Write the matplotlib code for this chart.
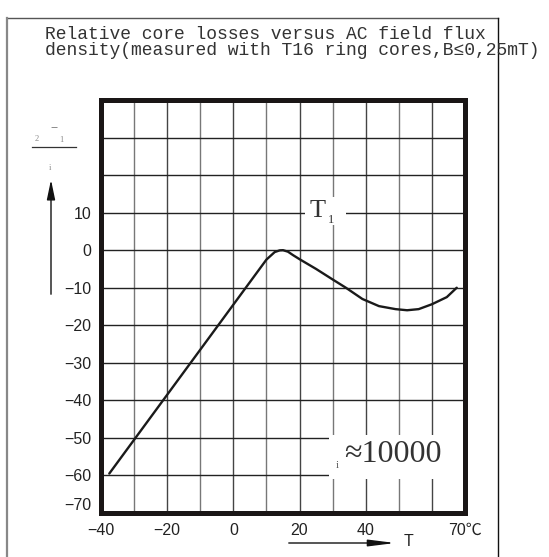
import matplotlib.pyplot as plt
from matplotlib.lines import Line2D
from matplotlib.patches import Rectangle
from matplotlib.transforms import ScaledTranslation

# curve (temperature in degC, relative change)
temp = [-37.5, -30, -20, -10, 0, 10, 12.5, 14, 15, 16.5, 18, 20, 25, 30, 34, 39, 44, 49, 52.5, 56, 60, 64.5, 67.5]
rel = [-59.5, -50.5, -38.5, -26.5, -14.5, -2.5, -0.5, -0.05, 0.0, -0.4, -1.3, -2.4, -5.0, -7.8, -10.0, -13.0, -14.9, -15.7, -16.0, -15.7, -14.4, -12.5, -10.0]

xticks = [-40, -30, -20, -10, 0, 10, 20, 30, 40, 50, 60, 70]
xlabels = ['−40', '', '−20', '', '0', '', '20', '', '40', '', '', '70℃']
yticks = [40, 30, 20, 10, 0, -10, -20, -30, -40, -50, -60, -70]
ylabels = ['', '', '', '10', '0', '−10', '−20', '−30', '−40', '−50', '−60', '−70']

W, H = 549, 557
fig = plt.figure(figsize=(W / 100, H / 100), dpi=100)


def fx(px):
    return px / W


def fy(py):
    return 1 - py / H


ax = fig.add_axes([fx(101), fy(513), fx(465) - fx(101), fy(100) - fy(513)])
ax.set_xlim(-40, 70)
ax.set_ylim(-70, 40)

for i, x in enumerate(xticks[1:-1]):
    ax.axvline(x, color='#444444' if i % 2 else '#777777', lw=1.0, zorder=1)
for y in yticks[1:-1]:
    ax.axhline(y, color='#222222', lw=1.0, zorder=1)

ax.plot(temp, rel, color='#1a1a1a', lw=1.7, solid_capstyle='round', zorder=3)

ax.set_xticks(xticks)
ax.set_xticklabels(xlabels)
ax.set_yticks(yticks)
ax.set_yticklabels(ylabels)
ax.tick_params(length=0, labelsize=11.5, pad=7, colors='#222222')
for lbl in ax.get_xticklabels() + ax.get_yticklabels():
    lbl.set_fontfamily(['Liberation Sans', 'Noto Sans CJK SC'])
# bottom y label sits above the frame
last = ax.get_yticklabels()[-1]
last.set_transform(last.get_transform() + ScaledTranslation(0, 0.09, fig.dpi_scale_trans))

for s in ax.spines.values():
    s.set_linewidth(3.6)
    s.set_color('#1a1616')
    s.set_zorder(5)

# white patches that break the grid behind the labels
ax.add_patch(Rectangle((21.6, 6.7), 12.4, 7.5, fc='white', ec='none', zorder=2))
ax.add_patch(Rectangle((28.9, -61.0), 41.1, 11.8, fc='white', ec='none', zorder=2))

ax.text(25.6, 10.5, 'T', fontsize=19, family='Liberation Serif', ha='center', va='center',
        color='#333333', zorder=4)
ax.text(29.4, 8.0, '1', fontsize=9, family='Liberation Serif', ha='center', va='center',
        color='#333333', zorder=4)
ax.text(33.6, -54.4, '≈10000', fontsize=23, family='Liberation Serif', ha='left', va='center',
        color='#333333', zorder=4)
ax.text(31.3, -57.3, 'i', fontsize=8, family='Liberation Serif', ha='center', va='center',
        color='#555555', zorder=4)

# title
fig.text(fx(45), fy(59), 'Relative core losses versus AC field flux\n'
         'density(measured with T16 ring cores,B≤0,25mT)',
         fontsize=13.0, family='Liberation Mono', color='#333333', linespacing=0.9,
         ha='left', va='bottom')

# page frame
fig.add_artist(Line2D([fx(7), fx(498)], [fy(18), fy(18)], color='#555555', lw=1.0))
fig.add_artist(Line2D([fx(7), fx(7)], [fy(18), 0], color='#888888', lw=1.6))
fig.add_artist(Line2D([fx(498), fx(498)], [fy(18), 0], color='#111111', lw=1.0))

# y axis label fragments and arrow
fig.text(fx(37), fy(139), '2', fontsize=6, family='Liberation Serif', color='#888888', ha='center', va='center')
fig.text(fx(54), fy(129), '‾', fontsize=11, family='Liberation Serif', color='#444444', ha='center', va='top')
fig.text(fx(61), fy(140), '1', fontsize=6, family='Liberation Serif', color='#888888', ha='center', va='center')
fig.add_artist(Line2D([fx(32), fx(76)], [fy(147), fy(147)], color='#333333', lw=0.9))
fig.text(fx(50), fy(168), 'i', fontsize=6, family='Liberation Serif', color='#888888', ha='center', va='center')
ax.annotate('', xy=(fx(51), fy(177)), xytext=(fx(51), fy(297)), xycoords='figure fraction',
            arrowprops=dict(arrowstyle='-|>,head_length=1.2,head_width=0.25', color='#111111', lw=1.0))

# T arrow under the x axis
ax.annotate('', xy=(fx(398), fy(543)), xytext=(fx(286), fy(543)), xycoords='figure fraction',
            arrowprops=dict(arrowstyle='-|>,head_length=1.6,head_width=0.2', color='#111111', lw=1.0))
fig.text(fx(409), fy(541), 'T', fontsize=11.5, family='Liberation Sans', color='#222222', ha='center', va='center')

fig.savefig('out.png', dpi=100)
